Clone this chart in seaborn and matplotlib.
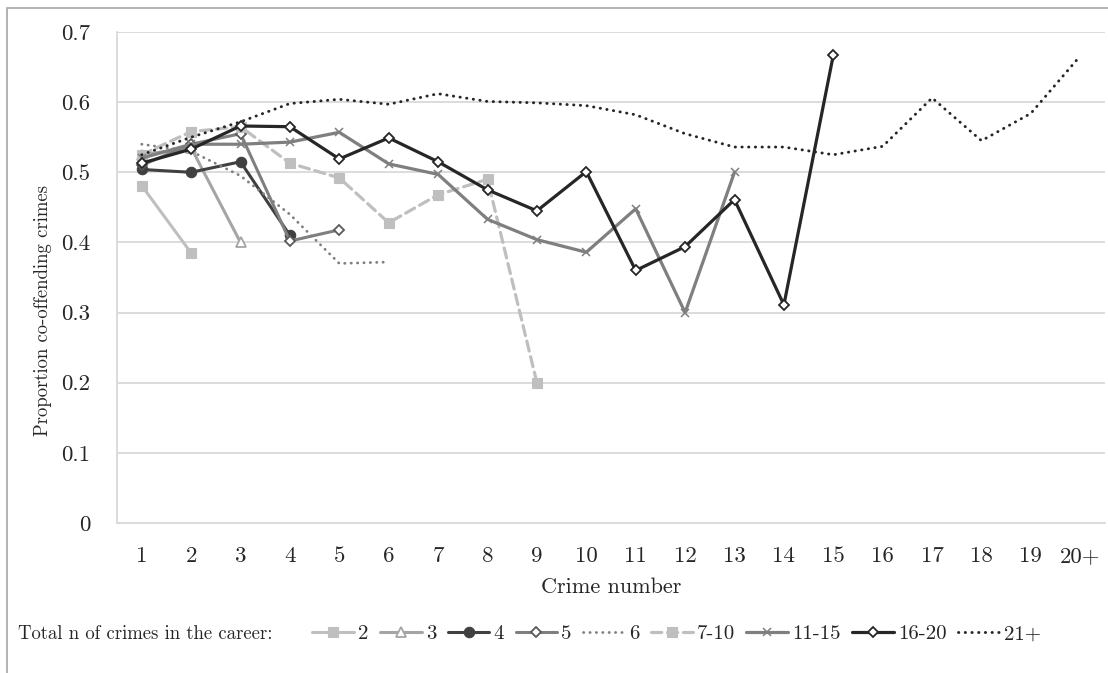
import pandas as pd
import seaborn as sns
import matplotlib.pyplot as plt
from matplotlib.patches import Rectangle

crime_labels = [str(i) for i in range(1, 20)] + ['20+']
series_names = ['2', '3', '4', '5', '6', '7-10', '11-15', '16-20', '21+']

career_2 = [0.481, 0.385]
career_3 = [0.525, 0.535, 0.400]
career_4 = [0.504, 0.500, 0.515, 0.410]
career_5 = [0.510, 0.540, 0.555, 0.402, 0.418]
career_6 = [0.540, 0.530, 0.495, 0.440, 0.370, 0.372]
career_7_10 = [0.525, 0.558, 0.565, 0.513, 0.492, 0.428, 0.468, 0.490, 0.200]
career_11_15 = [0.520, 0.540, 0.540, 0.543, 0.557, 0.512, 0.497, 0.433, 0.404,
                0.386, 0.448, 0.300, 0.500]
career_16_20 = [0.513, 0.533, 0.566, 0.565, 0.519, 0.549, 0.515, 0.475, 0.445,
                0.501, 0.360, 0.394, 0.461, 0.311, 0.667]
career_21 = [0.525, 0.550, 0.572, 0.598, 0.604, 0.597, 0.612, 0.601, 0.599, 0.595,
             0.582, 0.555, 0.536, 0.536, 0.525, 0.537, 0.606, 0.545, 0.584, 0.666]

all_values = [career_2, career_3, career_4, career_5, career_6, career_7_10,
              career_11_15, career_16_20, career_21]

dot = (0, (0.1, 2.2))
styles = {
    '2':     dict(color='#bfbfbf', lw=2.2, ls='-', marker='s', ms=6.5, mfc='#bfbfbf', mec='#bfbfbf'),
    '3':     dict(color='#a5a5a5', lw=2.2, ls='-', marker='^', ms=7, mfc='white', mec='#a5a5a5', mew=1.3),
    '4':     dict(color='#404040', lw=2.2, ls='-', marker='o', ms=7.5, mfc='#404040', mec='#404040'),
    '5':     dict(color='#7f7f7f', lw=2.2, ls='-', marker='D', ms=5.5, mfc='white', mec='#595959', mew=1.3),
    '6':     dict(color='#7f7f7f', lw=2.0, ls=dot, marker=None),
    '7-10':  dict(color='#bfbfbf', lw=2.3, ls=(0, (3.2, 1.8)), marker='s', ms=7, mfc='#bfbfbf', mec='#bfbfbf'),
    '11-15': dict(color='#7f7f7f', lw=2.3, ls='-', marker='x', ms=6, mec='#7f7f7f', mew=1.1),
    '16-20': dict(color='#262626', lw=2.3, ls='-', marker='D', ms=5.5, mfc='white', mec='#262626', mew=1.3),
    '21+':   dict(color='#262626', lw=2.1, ls=dot, marker=None),
}

sns.set_style('white')
plt.rcParams['font.family'] = ['cmr10', 'DejaVu Serif']
plt.rcParams['axes.formatter.use_mathtext'] = True

fig = plt.figure(figsize=(11.08, 6.73), dpi=100)
ax = fig.add_axes([117 / 1108, 1 - 523 / 673, (1105 - 117) / 1108, (523 - 32) / 673])

for name, vals in zip(series_names, all_values):
    df = pd.DataFrame({'x': range(len(vals)), 'y': vals})
    st = styles[name]
    sns.lineplot(data=df, x='x', y='y', ax=ax, label=name, color=st['color'],
                 linewidth=st['lw'], linestyle=st['ls'], marker=st['marker'],
                 markersize=st.get('ms', 0), markerfacecolor=st.get('mfc', st['color']),
                 markeredgecolor=st.get('mec', st['color']),
                 markeredgewidth=st.get('mew', 0.8), dash_capstyle='round')

ax.set_xlim(-0.5, len(crime_labels) - 0.5)
ax.set_ylim(0, 0.7)
ax.set_xticks(range(len(crime_labels)))
ax.set_xticklabels(crime_labels, fontsize=16.5)
yt = [0, 0.1, 0.2, 0.3, 0.4, 0.5, 0.6, 0.7]
ax.set_yticks(yt)
ax.set_yticklabels(['0'] + [f'{v:.1f}' for v in yt[1:]], fontsize=16.5)
ax.yaxis.grid(True, color='#d9d9d9', lw=1.3)
ax.set_axisbelow(True)
for side in ['top', 'right']:
    ax.spines[side].set_visible(False)
ax.spines['left'].set_color('#d9d9d9')
ax.spines['bottom'].set_color('#d9d9d9')
ax.spines['left'].set_linewidth(1.3)
ax.spines['bottom'].set_linewidth(1.3)
ax.tick_params(axis='y', length=7, color='#d9d9d9', width=1.3, pad=12)
ax.tick_params(axis='x', length=0, pad=17)
ax.set_xlabel('Crime number', fontsize=16, labelpad=8)
ax.set_ylabel('Proportion co-offending crimes', fontsize=13.5)
ax.yaxis.set_label_coords(-0.066, 0.433)

handles, labels = ax.get_legend_handles_labels()
ax.get_legend().remove()
fig.legend(handles, labels, loc='center left', bbox_to_anchor=(302 / 1108, 1 - 634 / 673),
           ncol=9, frameon=False, handlelength=2.0, handletextpad=0.2,
           columnspacing=0.55, fontsize=15, borderpad=0)
fig.text(18 / 1108, 1 - 634 / 673, 'Total n of crimes in the career:', fontsize=13.5, va='center')

fig.patches.append(Rectangle((7 / 1108, -0.1), 1.5, 1.1 - 8 / 673, transform=fig.transFigure,
                             fill=False, edgecolor='#a6a6a6', lw=1.2))

fig.savefig('out.png', dpi=100)
